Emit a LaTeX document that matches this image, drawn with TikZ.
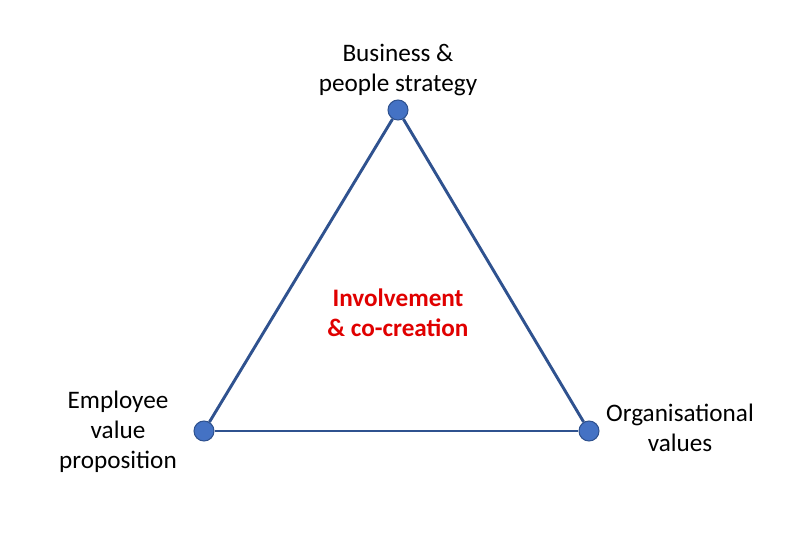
\documentclass[tikz,border=0pt]{standalone}
\usepackage{fontspec}
\setmainfont{Carlito}
\usepackage{tikz}
\usetikzlibrary{positioning}
\definecolor{edgeblue}{HTML}{2F528F}
\definecolor{dotblue}{HTML}{4472C4}
\definecolor{corered}{HTML}{E00000}

\begin{document}
\begin{tikzpicture}[x=0.03cm, y=-0.03cm,
  font=\fontsize{21.5}{25.5}\selectfont,
  corner/.style={circle, fill=dotblue, draw=edgeblue, line width=0.9pt, minimum size=0.6cm, inner sep=0pt},
  side/.style={draw=edgeblue, line width=2.5pt},
  label/.style={align=center, inner sep=0pt}]
\useasboundingbox (0,0) rectangle (800,548);
% triangle corners
\node[corner] (top) at (398,110) {};
\node[corner] (left) at (204,431) {};
\node[corner] (right) at (589,431) {};
% sides
\draw[side] (top) -- (left);
\draw[side] (left) -- (right);
\draw[side] (right) -- (top);
% corner labels
\node[label] (strategy) at (398,70) {Business \&\\people strategy};
\node[label] (evp) at (118,432) {Employee\\value\\proposition};
\node[label] (values) at (680,428) {Organisational\\values};
% centre
\node[label, text=corered, font=\fontsize{21.5}{25.5}\selectfont\bfseries] (core) at (398,313) {Involvement\\\& co-creation};
\end{tikzpicture}
\end{document}
